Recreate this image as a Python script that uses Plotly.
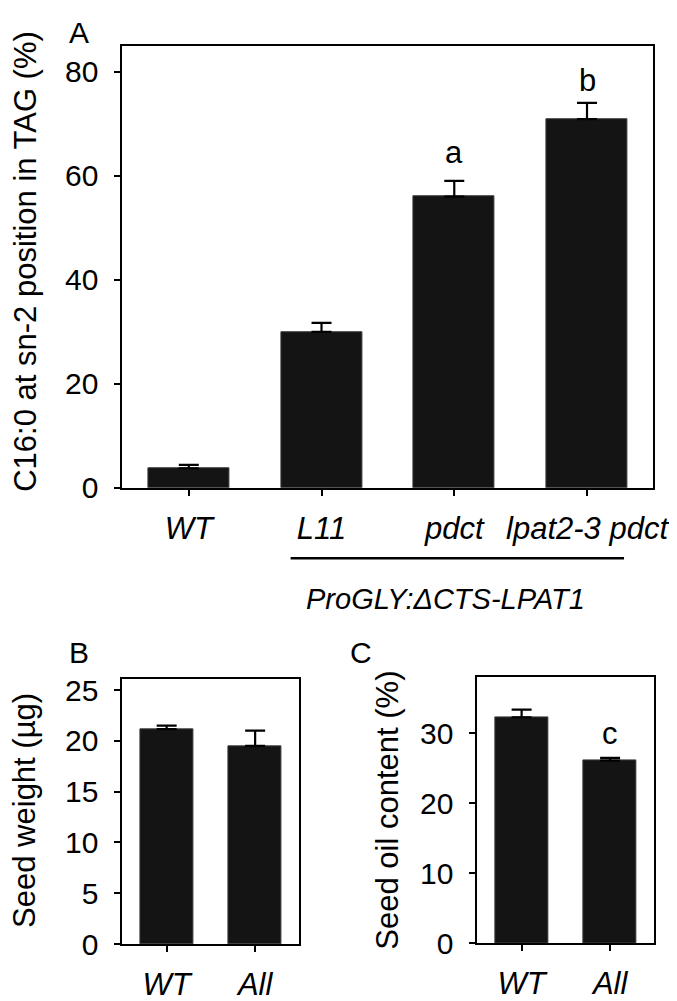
import plotly.graph_objects as go

# ---- data ----
a_labels = ["WT", "L11", "pdct", "lpat2-3 pdct"]
a_values = [3.75, 30.0, 56.0, 70.9]
a_errors = [0.65, 1.7, 3.0, 3.1]
a_letters = ["", "", "a", "b"]
a_letter_y = [None, None, 64.4, 78.3]

b_labels = ["WT", "All"]
b_values = [21.15, 19.5]
b_errors = [0.35, 1.5]

c_labels = ["WT", "All"]
c_values = [32.3, 26.1]
c_errors = [1.1, 0.4]
c_letters = ["", "c"]
c_letter_y = [None, 30.0]

a_yticks = [0, 20, 40, 60, 80]
b_yticks = [0, 5, 10, 15, 20, 25]
c_yticks = [0, 10, 20, 30]

W, H = 677, 1001
FONT = "Liberation Sans, Arial, sans-serif"
FS = 30
BAR = "#141414"

def px(x):
    return x / W

def py(y):
    return 1 - y / H

fig = go.Figure()

def add_bars(labels, values, errors, xa, ya, width):
    xs = list(range(len(labels)))
    fig.add_trace(go.Bar(
        x=xs, y=values, width=width,
        marker=dict(color=BAR, line=dict(color="#3a3a3a", width=1)),
        error_y=dict(type="data", array=errors, arrayminus=[0] * len(errors),
                     symmetric=False, color="black", thickness=2.2, width=10),
        xaxis=xa, yaxis=ya, showlegend=False, hoverinfo="skip",
    ))

add_bars(a_labels, a_values, a_errors, "x", "y", 0.61)
add_bars(b_labels, b_values, b_errors, "x2", "y2", 0.6)
add_bars(c_labels, c_values, c_errors, "x3", "y3", 0.6)

axis_common = dict(showline=True, mirror=True, linecolor="black", linewidth=2,
                   ticks="outside", ticklen=6, tickwidth=2, tickcolor="black",
                   showgrid=False, zeroline=False,
                   tickfont=dict(family=FONT, size=FS, color="black"))

def xaxis(labels, domain, anchor):
    return dict(axis_common, domain=domain, anchor=anchor, range=[-0.5, len(labels) - 0.5],
                tickmode="array", tickvals=list(range(len(labels))),
                ticktext=["<i>%s</i>" % l for l in labels], ticklabelstandoff=6,
                tickfont=dict(family=FONT, size=31, color="black"))

def yaxis(ticks, rng, domain, anchor):
    return dict(axis_common, domain=domain, anchor=anchor, range=rng,
                tickmode="array", tickvals=ticks, ticktext=[str(t) for t in ticks],
                ticklabelstandoff=10)

fig.update_layout(
    width=W, height=H, margin=dict(l=0, r=0, t=0, b=0),
    paper_bgcolor="white", plot_bgcolor="white", bargap=0,
    font=dict(family=FONT, size=FS, color="black"),
    xaxis=xaxis(a_labels, [px(117), px(660)], "y"),
    yaxis=yaxis(a_yticks, [0, 84.9], [py(485), py(33)], "x"),
    xaxis2=xaxis(b_labels, [px(117), px(298)], "y2"),
    yaxis2=yaxis(b_yticks, [0, 26.05], [py(952), py(681)], "x2"),
    xaxis3=xaxis(c_labels, [px(480), px(661)], "y3"),
    yaxis3=yaxis(c_yticks, [0, 38.0], [py(951), py(679)], "x3"),
)

ann = []
for i, (t, yv) in enumerate(zip(a_letters, a_letter_y)):
    if t:
        ann.append(dict(x=i, y=yv, xref="x", yref="y", text=t, showarrow=False,
                        xanchor="center", yanchor="middle", font=dict(size=31)))
for i, (t, yv) in enumerate(zip(c_letters, c_letter_y)):
    if t:
        ann.append(dict(x=i, y=yv, xref="x3", yref="y3", text=t, showarrow=False,
                        xanchor="center", yanchor="middle", font=dict(size=31)))

# panel letters
for t, x, y in [("A", 73, 19), ("B", 73, 654), ("C", 361, 654)]:
    ann.append(dict(x=px(x), y=py(y), xref="paper", yref="paper", text=t,
                    xanchor="center", yanchor="middle",
                    showarrow=False, font=dict(size=FS)))

# y titles
for t, x, y in [("C16:0 at sn-2 position in TAG (%)", 18, 253),
                ("Seed weight (µg)", 17, 815),
                ("Seed oil content (%)", 388, 815)]:
    ann.append(dict(x=px(x), y=py(y), xref="paper", yref="paper", text=t,
                    xanchor="center", yanchor="middle", borderpad=0,
                    textangle=-90, showarrow=False, font=dict(size=31)))

# group label
ann.append(dict(x=px(447), y=py(599), xref="paper", yref="paper",
                xanchor="center", yanchor="middle",
                text="<i>ProGLY:ΔCTS-LPAT1</i>", showarrow=False, font=dict(size=29)))

fig.update_layout(annotations=ann)
fig.add_shape(type="line", xref="paper", yref="paper",
              x0=px(289), x1=px(630), y0=py(557), y1=py(557),
              line=dict(color="black", width=2.5))

fig.write_html("out.html")
